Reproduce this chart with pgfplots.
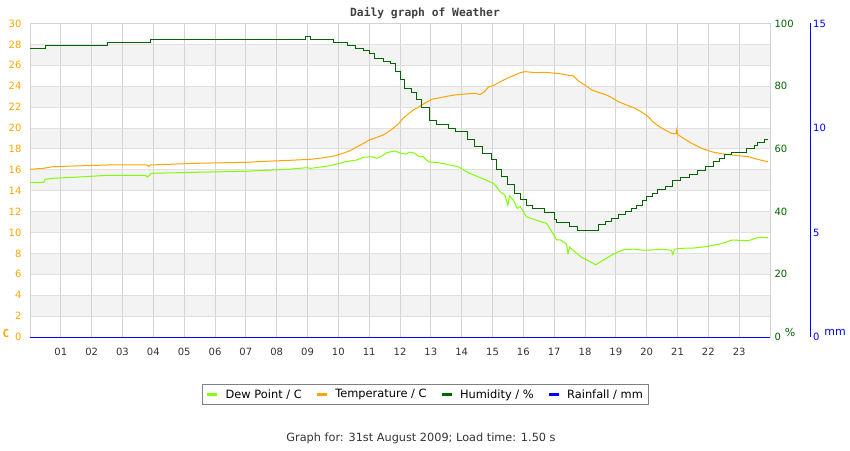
\documentclass[border=0pt]{standalone}
\usepackage{pgfplots}
\pgfplotsset{compat=1.18}
\usepackage{fontspec}
\setmainfont{DejaVu Sans}
\setmonofont{DejaVu Sans Mono}

\definecolor{dewc}{HTML}{7FFF00}
\definecolor{tempc}{HTML}{FFA500}
\definecolor{humc}{HTML}{006400}
\definecolor{gridc}{HTML}{D3D3D3}
\definecolor{hgridc}{HTML}{E0E0E0}
\definecolor{bandc}{HTML}{F3F3F3}
\definecolor{titlec}{HTML}{404040}
\definecolor{textc}{HTML}{333333}

\pgfplotsset{
  base/.style={
    at={(30pt,113pt)}, anchor=south west,
    scale only axis, width=740pt, height=313.5pt,
    xmin=0, xmax=24,
    /pgf/number format/assume math mode=true,
    ticklabel style={font=\fontsize{10}{12}\selectfont},
    major tick length=0pt,
  },
}

\begin{document}
\begin{tikzpicture}
\useasboundingbox (0,0) rectangle (850pt,450pt);

% background bands
\begin{axis}[base, ymin=0, ymax=30, hide axis]
  \fill[bandc] (axis cs:0,2)  rectangle (axis cs:24,4);
  \fill[bandc] (axis cs:0,6)  rectangle (axis cs:24,8);
  \fill[bandc] (axis cs:0,10) rectangle (axis cs:24,12);
  \fill[bandc] (axis cs:0,14) rectangle (axis cs:24,16);
  \fill[bandc] (axis cs:0,18) rectangle (axis cs:24,20);
  \fill[bandc] (axis cs:0,22) rectangle (axis cs:24,24);
  \fill[bandc] (axis cs:0,26) rectangle (axis cs:24,28);
\end{axis}

% temperature / dew point
\begin{axis}[base,
    ymin=0, ymax=30,
    axis line style={gridc, line width=0.8pt},
    xtick={1,...,23},
    xticklabels={01,02,03,04,05,06,07,08,09,10,11,12,13,14,15,16,17,18,19,20,21,22,23},
    xticklabel style={text=textc, yshift=-8pt},
    ytick={0,2,...,30},
    yticklabel style={text=tempc, xshift=-5pt},
    xmajorgrids, ymajorgrids,
    x grid style={gridc, line width=0.8pt},
    y grid style={hgridc, line width=0.8pt},
    legend columns=4,
    legend style={at={(axis description cs:0.5345,-0.1834)}, anchor=center,
      draw=gray, line width=0.8pt, font=\fontsize{11.4}{13}\selectfont,
      inner xsep=4pt, inner ysep=3pt,
      /tikz/every odd column/.append style={column sep=5pt},
      /tikz/every even column/.append style={column sep=12pt}},
    legend image code/.code={\draw[#1, line width=2.5pt] (0pt,0pt) -- (10pt,0pt);},
  ]
  \draw[gridc, line width=2pt] (axis cs:0,0) -- (axis cs:0,30);
  \addplot[dewc, line width=1pt] coordinates {
    (0,14.8) (0.45,14.8) (0.49,15.09) (0.75,15.19) (1.4,15.28) (2.5,15.47)
    (3.75,15.47) (3.8,15.3) (3.88,15.47) (3.9,15.66) (5.35,15.76) (7.03,15.86)
    (7.62,15.95) (8.37,16.05) (8.97,16.2) (9.1,16.14) (9.67,16.36) (10.05,16.62)
    (10.22,16.77) (10.6,16.94) (10.8,17.2) (11.1,17.25) (11.25,17.1) (11.4,17.3)
    (11.57,17.64) (11.84,17.8) (12.0,17.6) (12.2,17.5) (12.3,17.7) (12.49,17.58)
    (12.6,17.3) (12.76,17.25) (12.92,16.77) (13.2,16.7) (13.46,16.56) (13.7,16.4)
    (13.89,16.3) (14.05,16.0) (14.22,15.73) (14.4,15.5) (14.65,15.19) (14.8,15.0)
    (15.03,14.71) (15.15,14.3) (15.25,13.9) (15.4,13.6) (15.5,12.6) (15.55,13.5)
    (15.68,13.1) (15.8,12.3) (15.9,12.5) (16.1,11.5) (16.3,11.3) (16.5,11.1)
    (16.75,10.88) (16.9,10.2) (17.08,9.28) (17.2,9.3) (17.4,8.9) (17.45,8.0)
    (17.5,8.6) (17.73,8.0) (17.9,7.6) (18.1,7.3) (18.27,7.05) (18.35,6.9)
    (18.5,7.2) (18.7,7.53) (18.9,7.9) (19.08,8.16) (19.3,8.39) (19.6,8.4)
    (19.9,8.3) (20.16,8.33) (20.5,8.4) (20.8,8.3) (20.85,7.9) (20.9,8.4)
    (21.1,8.49) (21.5,8.5) (21.9,8.64) (22.33,8.87) (22.5,9.0) (22.76,9.28)
    (23.3,9.22) (23.62,9.54) (23.93,9.5)
  };
  \addlegendentry{Dew Point / C}
  \addplot[tempc, line width=1pt] coordinates {
    (0,16.05) (0.43,16.14) (0.75,16.3) (1.4,16.36) (2.5,16.46) (3.8,16.46)
    (3.85,16.3) (3.9,16.46) (5.35,16.62) (7.03,16.72) (7.62,16.81) (8.37,16.9)
    (9.07,17.0) (9.46,17.13) (9.83,17.3) (10.15,17.58) (10.4,17.85) (10.6,18.2)
    (10.8,18.5) (11.0,18.85) (11.25,19.1) (11.45,19.33) (11.6,19.6) (11.78,19.97)
    (11.95,20.4) (12.1,20.93) (12.25,21.3) (12.43,21.72) (12.6,22.0) (12.76,22.3)
    (13.03,22.75) (13.3,22.9) (13.55,23.05) (13.78,23.16) (14.1,23.25) (14.43,23.32)
    (14.6,23.2) (14.75,23.5) (14.86,23.9) (15.05,24.1) (15.3,24.5) (15.5,24.8)
    (15.73,25.07) (15.9,25.3) (16.06,25.39) (16.4,25.3) (16.7,25.33) (17.0,25.25)
    (17.24,25.17) (17.45,25.05) (17.62,24.98) (17.75,24.6) (17.9,24.28) (18.05,24.0)
    (18.22,23.64) (18.45,23.4) (18.7,23.16) (18.9,22.85) (19.08,22.52) (19.35,22.2)
    (19.62,21.89) (19.85,21.5) (20.05,21.08) (20.2,20.6) (20.38,20.19) (20.6,19.8)
    (20.8,19.49) (20.95,19.45) (20.98,19.9) (21.0,19.4) (21.2,19.0) (21.45,18.54)
    (21.75,18.1) (22.1,17.73) (22.4,17.55) (22.76,17.42) (23.3,17.25) (23.6,17.0)
    (23.93,16.77)
  };
  \addlegendentry{Temperature / C}
  \addlegendimage{humc, line width=1pt}
  \addlegendentry{Humidity / \%}
  \addlegendimage{blue, line width=1pt}
  \addlegendentry{Rainfall / mm}
\end{axis}

% humidity
\begin{axis}[base,
    ymin=0, ymax=100,
    axis x line=none, axis y line*=right,
    axis line style={draw=none},
    ytick={0,20,...,100},
    yticklabel style={text=humc, xshift=1pt},
  ]
  \addplot[humc, line width=1pt, const plot] coordinates {
    (0,92.1) (0.49,93.1) (2.5,94.0) (3.9,95.0) (8.95,95.9) (9.1,95.0)
    (9.83,94.0) (10.3,93.1) (10.55,92.1) (10.8,91.3) (11.0,90.3) (11.16,88.9)
    (11.45,88.0) (11.68,87.1) (11.84,84.6) (12.0,82.0) (12.16,79.3) (12.38,77.9)
    (12.54,75.6) (12.7,73.3) (12.97,69.2) (13.19,67.9) (13.56,66.6) (13.8,65.5)
    (14.2,63.1) (14.43,60.7) (14.69,58.6) (14.97,56.5) (15.13,53.3) (15.3,51.1)
    (15.5,48.5) (15.7,45.9) (15.9,44.0) (16.1,42.1) (16.3,41.0) (16.7,39.6)
    (17.0,37.5) (17.08,36.5) (17.5,35.2) (17.75,34.1) (18.43,35.9) (18.65,36.9)
    (18.87,37.9) (19.1,39.0) (19.3,40.0) (19.5,41.0) (19.68,42.1) (19.85,43.4)
    (20.0,44.8) (20.2,45.8) (20.35,46.9) (20.6,47.9) (20.85,49.8) (21.1,50.8)
    (21.4,51.8) (21.66,53.0) (21.9,54.5) (22.16,56.1) (22.35,57.0) (22.54,58.1)
    (22.76,58.9) (23.25,60.0) (23.5,61.0) (23.6,62.0) (23.83,63.1) (23.93,63.1)
  };
\end{axis}

% rainfall
\begin{axis}[base,
    width=780.7pt, xmin=0, xmax=25.32,
    ymin=0, ymax=15, clip=false,
    axis x line=none, axis y line*=right,
    y axis line style={blue, line width=1pt},
    ytick={0,5,10,15},
    yticklabel style={text=blue, xshift=-1pt},
  ]
  \addplot[blue, line width=1pt] coordinates {(0,0) (24,0)};
\end{axis}

\node[font=\fontsize{11.3}{13}\selectfont\ttfamily\bfseries, text=titlec] at (425pt,437pt) {Daily graph of Weather};
\node[font=\fontsize{11}{13}\selectfont\ttfamily\bfseries, text=tempc] at (6pt,117pt) {C};
\node[font=\fontsize{11}{13}\selectfont, text=humc] at (790pt,118pt) {\%};
\node[font=\fontsize{11}{13}\selectfont, text=blue] at (835pt,118pt) {mm};
\node[font=\fontsize{11.3}{13}\selectfont, text=textc] at (421pt,12pt) {Graph for: 31st August 2009; Load time: 1.50 s};
\end{tikzpicture}
\end{document}
